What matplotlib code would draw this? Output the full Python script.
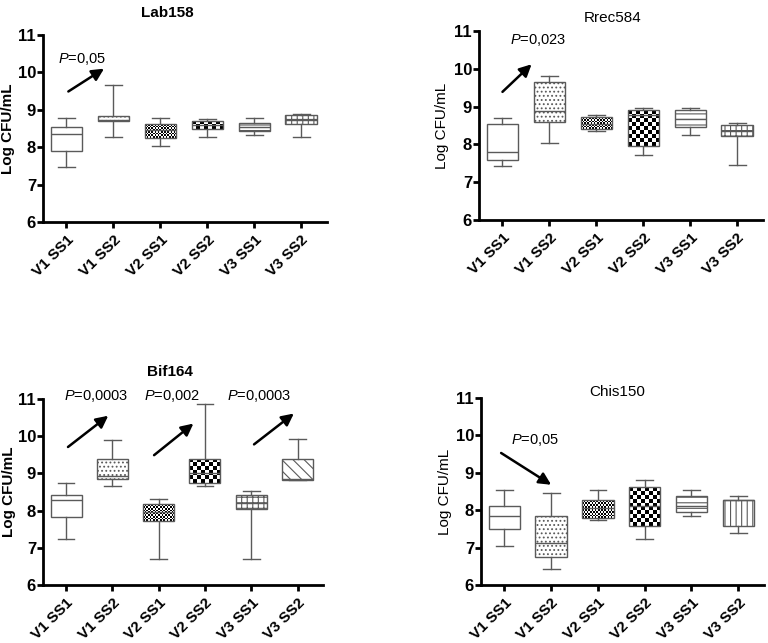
import numpy as np
import matplotlib
matplotlib.use('Agg')
import matplotlib.pyplot as plt

plt.rcParams['font.family'] = ['Liberation Sans', 'DejaVu Sans']
plt.rcParams['mathtext.fontset'] = 'custom'
plt.rcParams['mathtext.it'] = 'Liberation Sans:italic'
plt.rcParams['mathtext.rm'] = 'Liberation Sans'
plt.rcParams['hatch.linewidth'] = 0.8

groups = ['V1 SS1', 'V1 SS2', 'V2 SS1', 'V2 SS2', 'V3 SS1', 'V3 SS2']

# five-number summaries: whisker low, q1, median, q3, whisker high
lab158 = [[7.48, 7.90, 8.36, 8.54, 8.77],
          [8.27, 8.69, 8.72, 8.83, 9.67],
          [8.04, 8.25, 8.45, 8.61, 8.77],
          [8.27, 8.48, 8.60, 8.70, 8.75],
          [8.33, 8.44, 8.55, 8.65, 8.77],
          [8.27, 8.62, 8.74, 8.85, 8.89]]
rrec584 = [[7.44, 7.60, 7.80, 8.55, 8.69],
           [8.03, 8.58, 8.88, 9.66, 9.82],
           [8.35, 8.40, 8.55, 8.73, 8.77],
           [7.71, 7.97, 8.79, 8.90, 8.97],
           [8.26, 8.45, 8.67, 8.90, 8.97],
           [7.45, 8.21, 8.35, 8.52, 8.57]]
bif164 = [[7.25, 7.82, 8.29, 8.41, 8.73],
          [8.65, 8.85, 8.94, 9.40, 9.90],
          [6.71, 7.71, 7.95, 8.17, 8.32],
          [8.65, 8.74, 9.00, 9.40, 10.87],
          [6.71, 8.04, 8.20, 8.42, 8.52],
          [8.81, 8.82, 8.85, 9.38, 9.93]]
chis150 = [[7.04, 7.50, 7.84, 8.11, 8.53],
           [6.44, 6.74, 7.12, 7.84, 8.46],
           [7.75, 7.79, 8.05, 8.28, 8.53],
           [7.23, 7.57, 8.10, 8.61, 8.81],
           [7.85, 7.94, 8.10, 8.37, 8.53],
           [7.39, 7.57, 8.27, 8.28, 8.37]]

titles = ['Lab158', 'Rrec584', 'Bif164', 'Chis150']
panel_data = [lab158, rrec584, bif164, chis150]

# fill style of each box ('fine' and 'checker' are drawn as checkerboards)
fills = [['', '....', 'fine', 'checker', '---', '+++'],
         ['', '....', 'fine', 'checker', '---', '+++'],
         ['', '....', 'fine', 'checker', '+++', '\\\\\\'],
         ['', '....', 'fine', 'checker', '---', '|||']]

# P-value notes: (text, text x, text y, arrow start, arrow end)
notes = [[('0,05', 0.83, 10.37, (1.04, 9.49), (1.80, 10.10))],
         [('0,023', 1.17, 10.76, (1.00, 9.39), (1.62, 10.12))],
         [('0,0003', 0.96, 11.09, (1.04, 9.71), (1.91, 10.55)),
          ('0,002', 2.69, 11.09, (2.90, 9.49), (3.75, 10.34)),
          ('0,0003', 4.48, 11.09, (5.06, 9.78), (5.92, 10.61))],
         [('0,05', 1.14, 9.87, (0.93, 9.53), (2.00, 8.68))]]

positions = [[43/768, 1-222/643, 284/768, 187/643],
             [479/768, 1-220/643, 284/768, 189/643],
             [43/768, 1-585/643, 280/768, 186/643],
             [481/768, 1-585/643, 283/768, 187/643]]
title_xy = [(167, 13), (613, 18), (170, 372), (617, 392)]
ylabel_x = [-0.097, -0.104, -0.098, -0.104]
bold_panel = [True, False, True, False]

GRAY = '#5a5a5a'
WIDTH = 0.67

fig = plt.figure(figsize=(7.68, 6.43), dpi=100)


def draw_checker(ax, patch, x, lo, hi, cell_px):
    p0 = ax.transData.transform((x - WIDTH/2, lo))
    p1 = ax.transData.transform((x + WIDTH/2, hi))
    nx = max(1, int(round(abs(p1[0] - p0[0]) / cell_px)))
    ny = max(1, int(round(abs(p1[1] - p0[1]) / cell_px)))
    grid = np.add.outer(np.arange(ny), np.arange(nx)) % 2
    im = ax.imshow(grid, cmap='gray', extent=(x - WIDTH/2, x + WIDTH/2, lo, hi),
                   aspect='auto', interpolation='nearest', zorder=2.5)
    im.set_clip_path(patch)


for k in range(4):
    ax = fig.add_axes(positions[k])
    ax.set_xlim(0.5, 6.55)
    ax.set_ylim(6, 11)
    stats = [dict(whislo=s[0], q1=s[1], med=s[2], q3=s[3], whishi=s[4], fliers=[])
             for s in panel_data[k]]
    bp = ax.bxp(stats, positions=range(1, 7), widths=WIDTH, capwidths=0.36,
                patch_artist=True, showfliers=False, manage_ticks=False,
                boxprops=dict(facecolor='white', edgecolor=GRAY, linewidth=1),
                whiskerprops=dict(color=GRAY, linewidth=1),
                capprops=dict(color=GRAY, linewidth=1),
                medianprops=dict(color=GRAY, linewidth=1, zorder=3.5))
    for i, (patch, f) in enumerate(zip(bp['boxes'], fills[k])):
        s = panel_data[k][i]
        if f in ('fine', 'checker'):
            patch.set_facecolor('none')
            patch.set_zorder(3)
            draw_checker(ax, patch, i + 1, s[1], s[3], 1.6 if f == 'fine' else 4.0)
        elif f:
            patch.set_hatch(f)
    ax.set_xlim(0.5, 6.55)
    ax.set_ylim(6, 11)

    for txt, tx, ty, a0, a1 in notes[k]:
        ax.text(tx, ty, '$P$=' + txt, fontsize=10.5, ha='left', va='center', clip_on=False)
        ax.annotate('', xy=a1, xytext=a0,
                    arrowprops=dict(arrowstyle='-|>,head_length=0.6,head_width=0.3',
                                    color='black', lw=1.8, mutation_scale=12,
                                    shrinkA=0, shrinkB=0))

    ax.set_xticks(range(1, 7))
    ax.set_xticklabels(groups, rotation=45, ha='right', rotation_mode='anchor',
                       fontsize=11, fontweight='bold')
    ax.set_yticks(range(6, 12))
    ax.set_yticklabels([str(v) for v in range(6, 12)], fontsize=12, fontweight='bold')
    ax.tick_params(width=2, length=4.5)
    ax.tick_params(axis='y', pad=0.5)
    ax.tick_params(axis='x', pad=3)
    for side in ('top', 'right'):
        ax.spines[side].set_visible(False)
    for side in ('left', 'bottom'):
        ax.spines[side].set_linewidth(2)
    ax.set_ylabel('Log CFU/mL', fontsize=11,
                  fontweight='bold' if bold_panel[k] else 'normal')
    ax.yaxis.set_label_coords(ylabel_x[k], 0.5)
    tx, ty = title_xy[k]
    fig.text(tx/768, 1 - ty/643, titles[k], fontsize=11, ha='center', va='center',
             fontweight='bold' if bold_panel[k] else 'normal')

fig.savefig('out.png', dpi=100)
